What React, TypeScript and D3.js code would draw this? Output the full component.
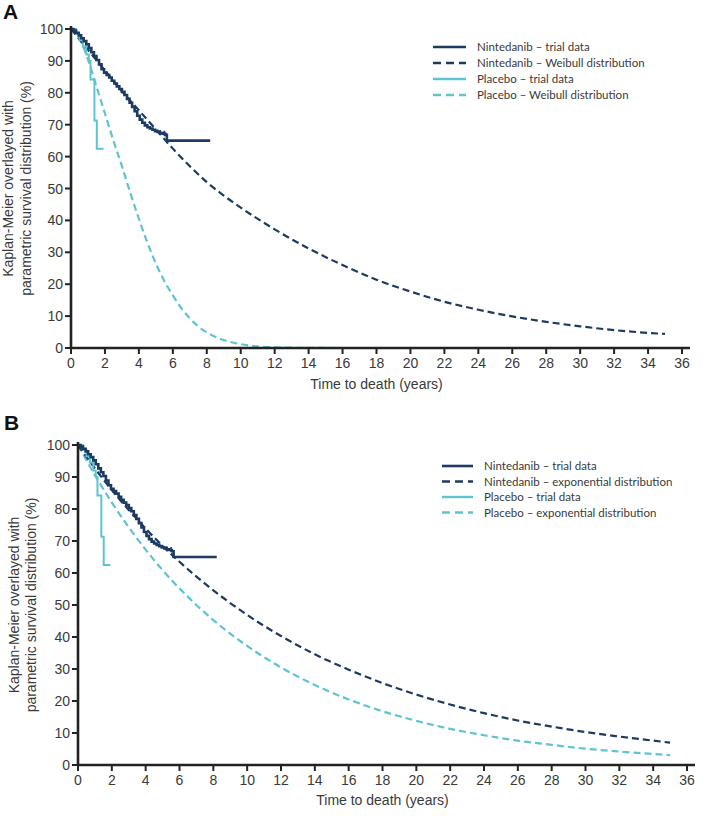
import React from "react";
import * as d3 from "d3";

// ---------- data ----------
const xTicks = [0, 2, 4, 6, 8, 10, 12, 14, 16, 18, 20, 22, 24, 26, 28, 30, 32, 34, 36];
const yTicks = [0, 10, 20, 30, 40, 50, 60, 70, 80, 90, 100];

// Kaplan-Meier trial data (same in both panels)
const nintKmT = [0, 0.15, 0.3, 0.45, 0.6, 0.75, 0.9, 1.05, 1.2, 1.35, 1.5, 1.65, 1.8, 1.95, 2.1, 2.25, 2.4, 2.55, 2.7, 2.85, 3.0, 3.15, 3.3, 3.45, 3.6, 3.75, 3.9, 4.05, 4.2, 4.35, 4.5, 4.65, 4.8, 4.95, 5.1, 5.25, 5.4, 5.55, 5.65, 8.2];
const nintKmS = [100, 99.5, 98.8, 98.0, 97.1, 96.2, 95.2, 94.0, 92.7, 91.5, 90.3, 88.9, 87.4, 86.3, 85.6, 84.8, 83.8, 82.9, 82.0, 81.2, 80.3, 79.3, 78.1, 76.9, 75.6, 74.2, 72.8, 71.6, 70.6, 69.8, 69.2, 68.8, 68.4, 68.0, 67.7, 67.4, 67.2, 66.8, 65.0, 65.0];
const nintCensorT = [5.25, 5.5];
const placKmT = [0, 0.3, 0.5, 0.7, 0.9, 1.05, 1.15, 1.38, 1.52, 1.92];
const placKmS = [100, 98.5, 96.5, 94.5, 92.0, 90.0, 84.2, 71.3, 62.5, 62.5];

// Panel A: Weibull distributions
const nintWeibT = [0, 1, 2, 3, 4, 5, 6, 7, 8, 9, 10, 12, 14, 16, 18, 20, 22, 24, 26, 28, 30, 32, 35];
const nintWeibS = [100, 93.5, 87, 80.5, 74.5, 68.5, 62.5, 57, 52, 47.8, 44, 37.2, 31.2, 26, 21.4, 17.7, 14.5, 12, 9.9, 8.2, 6.8, 5.6, 4.4];
const placWeibT = [0, 0.5, 1, 1.5, 2, 2.5, 3, 3.5, 4, 4.5, 5, 5.5, 6, 6.5, 7, 7.5, 8, 9, 10, 11, 12, 14, 16, 20, 25, 30, 35];
const placWeibS = [100, 97, 90.5, 82, 73.5, 65, 57, 48.5, 40.5, 33, 26.5, 21, 16.5, 12.5, 9.3, 6.8, 4.9, 2.5, 1.2, 0.5, 0.2, 0.05, 0, 0, 0, 0, 0];

// Panel B: exponential distributions
const expT = [0, 1, 2, 3, 4, 5, 6, 8, 10, 12, 14, 16, 18, 20, 22, 24, 26, 28, 30, 32, 35];
const nintExpS = [100, 92.7, 85.9, 79.7, 73.9, 68.5, 63.5, 54.6, 46.9, 40.3, 34.6, 29.8, 25.6, 22.0, 18.9, 16.2, 13.9, 12.0, 10.3, 8.9, 7.0];
const placExpS = [100, 90.6, 82.0, 74.3, 67.3, 60.9, 55.2, 45.3, 37.2, 30.5, 25.0, 20.5, 16.8, 13.8, 11.3, 9.3, 7.6, 6.3, 5.1, 4.2, 3.1];

const legendA = ["Nintedanib – trial data", "Nintedanib – Weibull distribution", "Placebo – trial data", "Placebo – Weibull distribution"];
const legendB = ["Nintedanib – trial data", "Nintedanib – exponential distribution", "Placebo – trial data", "Placebo – exponential distribution"];

// ---------- styles ----------
const NAVY = "#1c3a62";
const CYAN = "#5ec4cf";
const AXIS = "#222";
const TXT = "#3a3a3a";
const FONT = "'Liberation Sans', Arial, sans-serif";
const LFONT = "Lato, 'Open Sans', sans-serif";

type Geo = {
  x0: number; x1: number; yTop: number; yBot: number;
  letterX: number; letterY: number;
  t1: number; t2: number; titleY: number;
  legX: number; legY: number; legLen: number; legGap: number;
};

const zip = (t: number[], s: number[]) => t.map((v, i) => [v, s[i]] as [number, number]);

function Panel({ g, letter, legend, nintFit, placFit }: { g: Geo; letter: string; legend: string[]; nintFit: [number, number][]; placFit: [number, number][] }) {
  const x = d3.scaleLinear().domain([0, 36]).range([g.x0, g.x1]);
  const y = d3.scaleLinear().domain([0, 100]).range([g.yBot, g.yTop]);
  const smooth = d3.line<[number, number]>().x(d => x(d[0])).y(d => y(d[1])).curve(d3.curveMonotoneX);
  const step = d3.line<[number, number]>().x(d => x(d[0])).y(d => y(d[1])).curve(d3.curveStepAfter);
  const nintKm = zip(nintKmT, nintKmS);
  const placKm = zip(placKmT, placKmS);
  const censorY = (t: number) => {
    let s = 100;
    nintKmT.forEach((v, i) => { if (v <= t) s = nintKmS[i]; });
    return s;
  };
  const midY = (g.yTop + g.yBot) / 2;
  const midX = (g.x0 + g.x1) / 2;
  const legendStyles = [
    { c: NAVY, dash: undefined, w: 2.6 },
    { c: NAVY, dash: "8,5", w: 2.6 },
    { c: CYAN, dash: undefined, w: 2.4 },
    { c: CYAN, dash: "8,5", w: 2.4 },
  ];
  return (
    <g>
      <text x={g.letterX} y={g.letterY} fontFamily={FONT} fontWeight="bold" fontSize={21} fill="#111">{letter}</text>
      {/* fitted curves */}
      <path d={smooth(placFit) || ""} fill="none" stroke={CYAN} strokeWidth={2.2} strokeDasharray="7,4" />
      <path d={smooth(nintFit) || ""} fill="none" stroke={NAVY} strokeWidth={2.2} strokeDasharray="7,4" />
      {/* KM curves */}
      <path d={step(placKm) || ""} fill="none" stroke={CYAN} strokeWidth={2} />
      <path d={step(nintKm) || ""} fill="none" stroke={NAVY} strokeWidth={2.6} />
      {nintCensorT.map((t, i) => (
        <line key={i} x1={x(t)} x2={x(t)} y1={y(censorY(t)) - 3} y2={y(censorY(t)) + 2} stroke={NAVY} strokeWidth={1.6} />
      ))}
      {/* axes */}
      <line x1={g.x0} x2={g.x0} y1={g.yBot + 1} y2={g.yTop - 3} stroke={AXIS} strokeWidth={2.6} />
      <line x1={g.x0 - 1} x2={x(36) + 8} y1={g.yBot} y2={g.yBot} stroke={AXIS} strokeWidth={2.6} />
      {yTicks.map(v => (
        <g key={"y" + v}>
          <line x1={g.x0 - 6} x2={g.x0} y1={y(v)} y2={y(v)} stroke={AXIS} strokeWidth={2} />
          <text x={g.x0 - 8} y={y(v)} dy="0.36em" textAnchor="end" fontFamily={FONT} fontSize={14} fill={TXT}>{v}</text>
        </g>
      ))}
      {xTicks.map(v => (
        <g key={"x" + v}>
          <line x1={x(v)} x2={x(v)} y1={g.yBot} y2={g.yBot + 6} stroke={AXIS} strokeWidth={2} />
          <text x={x(v)} y={g.yBot + 20} textAnchor="middle" fontFamily={FONT} fontSize={14} fill={TXT}>{v}</text>
        </g>
      ))}
      <text x={midX} y={g.titleY} textAnchor="middle" fontFamily={FONT} fontSize={14} fill={TXT}>Time to death (years)</text>
      <text transform={`translate(${g.t1},${midY}) rotate(-90)`} textAnchor="middle" fontFamily={FONT} fontSize={14} fill={TXT}>Kaplan-Meier overlayed with</text>
      <text transform={`translate(${g.t2},${midY}) rotate(-90)`} textAnchor="middle" fontFamily={FONT} fontSize={14} fill={TXT}>parametric survival distribution (%)</text>
      {/* legend */}
      {legend.map((lab, i) => {
        const st = legendStyles[i];
        const yy = g.legY + i * g.legGap;
        return (
          <g key={lab}>
            <line x1={g.legX} x2={g.legX + g.legLen} y1={yy} y2={yy} stroke={st.c} strokeWidth={st.w} strokeDasharray={st.dash} />
            <text x={g.legX + g.legLen + 11} y={yy} dy="0.35em" fontFamily={LFONT} fontSize={11.5} fill={TXT}>{lab}</text>
          </g>
        );
      })}
    </g>
  );
}

const geoA: Geo = { x0: 71, x1: 682, yTop: 29, yBot: 348, letterX: 3, letterY: 19, t1: 13, t2: 31, titleY: 389, legX: 433, legY: 47, legLen: 33, legGap: 16 };
const geoB: Geo = { x0: 78, x1: 687, yTop: 445, yBot: 765, letterX: 4, letterY: 430, t1: 19, t2: 36, titleY: 805, legX: 442, legY: 466, legLen: 31, legGap: 15.5 };

export default function App() {
  return (
    <div style={{ position: "absolute", left: 0, top: 0 }}>
      <svg width={702} height={816} style={{ display: "block", background: "#fff" }}>
        <Panel g={geoA} letter="A" legend={legendA} nintFit={zip(nintWeibT, nintWeibS)} placFit={zip(placWeibT, placWeibS)} />
        <Panel g={geoB} letter="B" legend={legendB} nintFit={zip(expT, nintExpS)} placFit={zip(expT, placExpS)} />
      </svg>
    </div>
  );
}
